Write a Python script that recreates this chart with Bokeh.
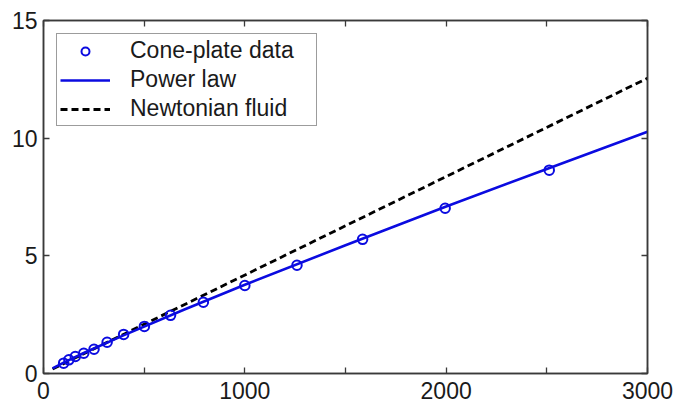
from bokeh.plotting import figure
from bokeh.models import LinearAxis, FixedTicker, Legend, LegendItem, Range1d
from bokeh.embed import file_html
from bokeh.resources import INLINE

# Data
x_data = [100, 126, 158, 200, 251, 316, 398, 501, 631, 794, 1000, 1259, 1585, 1995, 2512]
y_data = [0.44, 0.58, 0.72, 0.86, 1.03, 1.33, 1.66, 2.0, 2.47, 3.03, 3.74, 4.6, 5.7, 7.02, 8.64]

x_power = [45, 100, 200, 400, 700, 1000, 1500, 2000, 2500, 3000]
y_power = [0.22, 0.46, 0.87, 1.63, 2.72, 3.77, 5.45, 7.10, 8.69, 10.27]

x_newton = [45, 3000]
y_newton = [0.19, 12.55]

x_major_ticks = [0, 1000, 2000, 3000]
x_minor_ticks = [500, 1500, 2500]
x_all_ticks = [0, 500, 1000, 1500, 2000, 2500, 3000]
y_ticks = [0, 5, 10, 15]

labels = ["Cone-plate data", "Power law", "Newtonian fluid"]

FONT = "Liberation Sans"
AXIS_COLOR = "#3a3a3a"
TEXT_COLOR = "#1a1a1a"
BLUE = "#0b0be0"

p = figure(width=676, height=407, output_backend="svg", toolbar_location=None,
           x_range=Range1d(0, 3000), y_range=Range1d(0, 15),
           min_border_left=43, min_border_right=29, min_border_top=20, min_border_bottom=34,
           x_axis_location=None, y_axis_location=None)
p.grid.visible = False
p.outline_line_color = AXIS_COLOR
p.outline_line_width = 1.5
p.background_fill_color = "white"
p.border_fill_color = "white"


def style_axis(ax, ticker):
    ax.ticker = ticker
    ax.axis_line_color = AXIS_COLOR
    ax.axis_line_width = 1.5
    ax.major_tick_line_color = AXIS_COLOR
    ax.major_tick_line_width = 1.3
    ax.major_tick_in = 6
    ax.major_tick_out = 0
    ax.minor_tick_line_color = AXIS_COLOR
    ax.minor_tick_line_width = 1.3
    ax.minor_tick_in = 6
    ax.minor_tick_out = 0
    ax.major_label_text_font = FONT
    ax.major_label_text_color = TEXT_COLOR
    ax.major_label_text_font_size = "23px"


xb = LinearAxis()
style_axis(xb, FixedTicker(ticks=x_major_ticks, minor_ticks=x_minor_ticks))
xb.major_label_standoff = 8
p.add_layout(xb, "below")

yl = LinearAxis()
style_axis(yl, FixedTicker(ticks=y_ticks, minor_ticks=[]))
yl.major_label_standoff = 6
p.add_layout(yl, "left")

xt = LinearAxis()
style_axis(xt, FixedTicker(ticks=[], minor_ticks=x_all_ticks))
p.add_layout(xt, "above")

yr = LinearAxis()
style_axis(yr, FixedTicker(ticks=[], minor_ticks=y_ticks))
p.add_layout(yr, "right")

r_newton = p.line(x_newton, y_newton, line_color="black", line_width=2.8, line_dash="7 4")
r_power = p.line(x_power, y_power, line_color=BLUE, line_width=2.6)
r_data = p.scatter(x_data, y_data, marker="circle", size=9.5, fill_color=None,
                   line_color=BLUE, line_width=2)

legend = Legend(items=[LegendItem(label=labels[0], renderers=[r_data]),
                       LegendItem(label=labels[1], renderers=[r_power]),
                       LegendItem(label=labels[2], renderers=[r_newton])],
                location="top_left")
legend.margin = 13
legend.padding = 3
legend.spacing = 2
legend.glyph_width = 50
legend.glyph_height = 20
legend.label_height = 20
legend.label_width = 183
legend.label_standoff = 20
legend.label_text_font = FONT
legend.label_text_font_size = "23px"
legend.label_text_color = TEXT_COLOR
legend.border_line_color = AXIS_COLOR
legend.border_line_width = 1.3
legend.background_fill_color = "white"
legend.background_fill_alpha = 1.0
p.add_layout(legend, "center")

open("out.html", "w").write(file_html(p, INLINE))
